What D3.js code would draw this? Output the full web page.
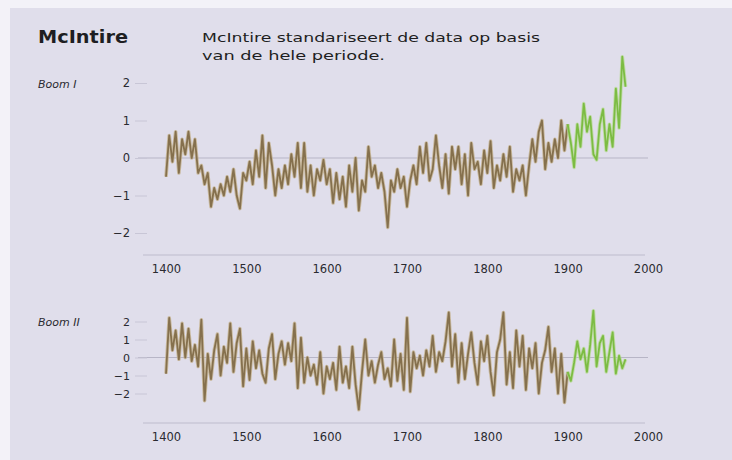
<!DOCTYPE html>
<html>
<head>
<meta charset="utf-8">
<script src="https://cdn.jsdelivr.net/npm/d3@7"></script>
<style>
  html, body { margin: 0; padding: 0; background: #f3f2f8; }
  svg { display: block; }
</style>
</head>
<body>
<svg id="chart" width="732" height="460"></svg>
<script>
// ---- data (4-year steps 1400..1972) ----
const startYear = 1400;
const stepYears = 4;
const greenFrom = 1900;
const xTicks = [1400, 1500, 1600, 1700, 1800, 1900, 2000];
const yTicks = [2, 1, 0, -1, -2];

const boomI = [
  -0.5, 0.6, -0.1, 0.7, -0.4, 0.5, 0.1, 0.7, 0.0, 0.5,
  -0.4, -0.2, -0.7, -0.4, -1.3, -0.8, -1.1, -0.7, -1.0, -0.5,
  -0.9, -0.3, -1.0, -1.35, -0.4, -0.6, -0.1, -0.7, 0.2, -0.5,
  0.6, -0.8, 0.4, -0.2, -1.0, -0.3, -0.8, -0.2, -0.7, 0.1,
  -0.5, 0.4, -0.8, 0.4, -0.9, -0.2, -1.0, -0.3, -0.6, -0.05,
  -0.7, -0.3, -1.2, -0.4, -1.1, -0.5, -1.3, -0.2, -0.9, 0.0,
  -1.4, -0.6, -0.9, 0.3, -0.5, -0.2, -0.8, -0.4, -0.9, -1.85,
  -0.6, -0.9, -0.3, -0.8, -0.5, -1.3, -0.6, -0.2, -0.7, 0.3,
  -0.4, 0.4, -0.6, -0.3, 0.6, -0.2, -0.8, 0.1, -0.95, 0.3,
  -0.3, 0.3, -0.7, 0.1, -1.0, 0.4, -0.3, -0.1, -0.7, 0.2,
  -0.4, 0.45, -0.8, -0.2, -0.6, 0.1, -0.5, 0.3, -0.9, -0.3,
  -0.6, -0.2, -1.0, -0.2, 0.5, -0.1, 0.7, 1.0, -0.3, 0.4,
  -0.1, 0.5, 0.0, 1.0, 0.2, 0.9, 0.4, -0.25, 0.9, 0.3,
  1.45, 0.7, 1.1, 0.1, -0.05, 0.9, 1.3, 0.2, 0.9, 0.3,
  1.85, 0.8, 2.7, 1.9
];

const boomII = [
  -0.9, 2.2, 0.4, 1.5, -0.1, 1.9, 0.0, 1.6, -0.2, 0.7,
  -0.5, 2.1, -2.4, 0.2, -1.2, 0.4, 1.3, -1.0, 0.6, -0.3,
  1.9, -0.8, 0.8, 1.6, -1.6, 0.5, -1.25, 0.9, -0.6, 0.4,
  -0.9, -1.4, 0.5, 1.3, -1.2, 0.2, 0.9, -0.4, 0.8, -0.2,
  1.9, -1.7, 1.1, -1.4, 0.0, -1.0, -0.4, -1.5, 0.3, -2.0,
  -0.5, -1.2, -0.3, -1.8, 0.6, -1.4, -0.5, -1.7, 0.6, -1.5,
  -2.9, -0.8, 1.0, -1.0, -0.2, -1.4, -0.4, 0.3, -1.2, -0.6,
  -1.6, 1.0, -1.3, 0.2, -1.8, 2.2, -1.9, 0.3, -0.6, 0.1,
  -1.0, 0.4, -0.5, 1.2, -0.8, 0.3, -0.2, 0.9, 2.5, -0.5,
  1.3, -1.4, 0.8, -1.2, 0.2, 1.4, -0.3, -1.5, 0.9, -0.2,
  1.2, -0.8, -2.1, 0.3, 1.0, 2.5, -1.5, 0.3, -1.7, 1.5,
  -0.5, 1.2, -1.8, 0.5, -0.6, 0.8, -2.0, -0.3, 0.4, 1.7,
  -0.8, 0.5, -2.0, 0.2, -2.5, -0.8, -1.3, -0.3, 0.9, -0.1,
  0.5, -0.8, 0.7, 2.6, -0.5, 0.8, 1.2, -0.8, 0.3, 1.4,
  -0.9, 0.1, -0.6, -0.1
];

const titleText = "McIntire";
const noteLines = ["McIntire standariseert de data op basis", "van de hele periode."];
const panelLabels = ["Boom I", "Boom II"];

// ---- drawing ----
const svg = d3.select("#chart");
const W = 732, H = 460;
const font = "'DejaVu Sans', 'Open Sans', sans-serif";
const brown = "#85704d", brownHalo = "#c2ae86";
const green = "#7cbc43", greenHalo = "#b6da90";

svg.append("rect").attr("width", W).attr("height", H).attr("fill", "#f3f2f8");
svg.append("rect").attr("x", 10).attr("y", 8).attr("width", W - 10).attr("height", H - 8).attr("fill", "#e0deeb");

svg.append("text").attr("x", 38).attr("y", 43)
  .attr("font-family", font).attr("font-weight", "bold").attr("font-size", 17)
  .attr("fill", "#1e1e22").attr("textLength", 90).attr("lengthAdjust", "spacingAndGlyphs")
  .text(titleText);

svg.append("text").attr("x", 202).attr("y", 42)
  .attr("font-family", font).attr("font-size", 13).attr("fill", "#1e1e22")
  .attr("textLength", 338).attr("lengthAdjust", "spacingAndGlyphs").text(noteLines[0]);
svg.append("text").attr("x", 202).attr("y", 60)
  .attr("font-family", font).attr("font-size", 13).attr("fill", "#1e1e22")
  .attr("textLength", 183).attr("lengthAdjust", "spacingAndGlyphs").text(noteLines[1]);

const x = d3.scaleLinear().domain([1400, 2000]).range([166, 648]);

const panels = [
  { values: boomI, label: panelLabels[0], y: d3.scaleLinear().domain([-2, 2]).range([233, 83]), axisY: 255, labelY: 88, tickFont: 11.5 },
  { values: boomII, label: panelLabels[1], y: d3.scaleLinear().domain([-2, 2]).range([393.5, 321.5]), axisY: 423, labelY: 326, tickFont: 11 }
];

panels.forEach(p => {
  const g = svg.append("g");
  const pts = p.values.map((v, i) => ({ year: startYear + i * stepYears, v }));

  // zero line
  g.append("line").attr("x1", 138).attr("x2", 648)
    .attr("y1", p.y(0)).attr("y2", p.y(0))
    .attr("stroke", "#b7b5c6").attr("stroke-width", 1);

  // y axis (short ticks, labels)
  const ya = g.append("g").attr("transform", "translate(147,0)")
    .call(d3.axisLeft(p.y).tickValues(yTicks).tickSize(12).tickPadding(5).tickFormat(d3.format("d")));
  ya.select(".domain").remove();
  ya.selectAll(".tick line").attr("stroke", "#c8c6d6").attr("stroke-width", 1);
  ya.selectAll(".tick text").attr("font-family", font).attr("font-size", p.tickFont).attr("fill", "#2a2a30");

  // x axis
  const xa = g.append("g").attr("transform", `translate(0,${p.axisY})`)
    .call(d3.axisBottom(x).tickValues(xTicks).tickSize(0).tickPadding(10).tickFormat(d3.format("d")));
  xa.select(".domain").remove();
  xa.selectAll(".tick text").attr("font-family", font).attr("font-size", 11.5).attr("fill", "#2a2a30");
  g.append("line").attr("x1", 143).attr("x2", 645).attr("y1", p.axisY).attr("y2", p.axisY)
    .attr("stroke", "#bebccd").attr("stroke-width", 1);

  // label
  g.append("text").attr("x", 38).attr("y", p.labelY)
    .attr("font-family", font).attr("font-style", "italic").attr("font-size", 11)
    .attr("fill", "#2a2a30").text(p.label);

  const line = d3.line().x(d => x(d.year)).y(d => p.y(d.v));
  const oldPart = pts.filter(d => d.year <= greenFrom);
  const newPart = pts.filter(d => d.year >= greenFrom);

  g.append("path").datum(oldPart).attr("d", line).attr("fill", "none")
    .attr("stroke", brownHalo).attr("stroke-width", 3.6).attr("stroke-linejoin", "round").attr("opacity", 0.75);
  g.append("path").datum(oldPart).attr("d", line).attr("fill", "none")
    .attr("stroke", brown).attr("stroke-width", 1.8).attr("stroke-linejoin", "round");
  g.append("path").datum(newPart).attr("d", line).attr("fill", "none")
    .attr("stroke", greenHalo).attr("stroke-width", 3.6).attr("stroke-linejoin", "round").attr("opacity", 0.75);
  g.append("path").datum(newPart).attr("d", line).attr("fill", "none")
    .attr("stroke", green).attr("stroke-width", 1.8).attr("stroke-linejoin", "round");
});
</script>
</body>
</html>
